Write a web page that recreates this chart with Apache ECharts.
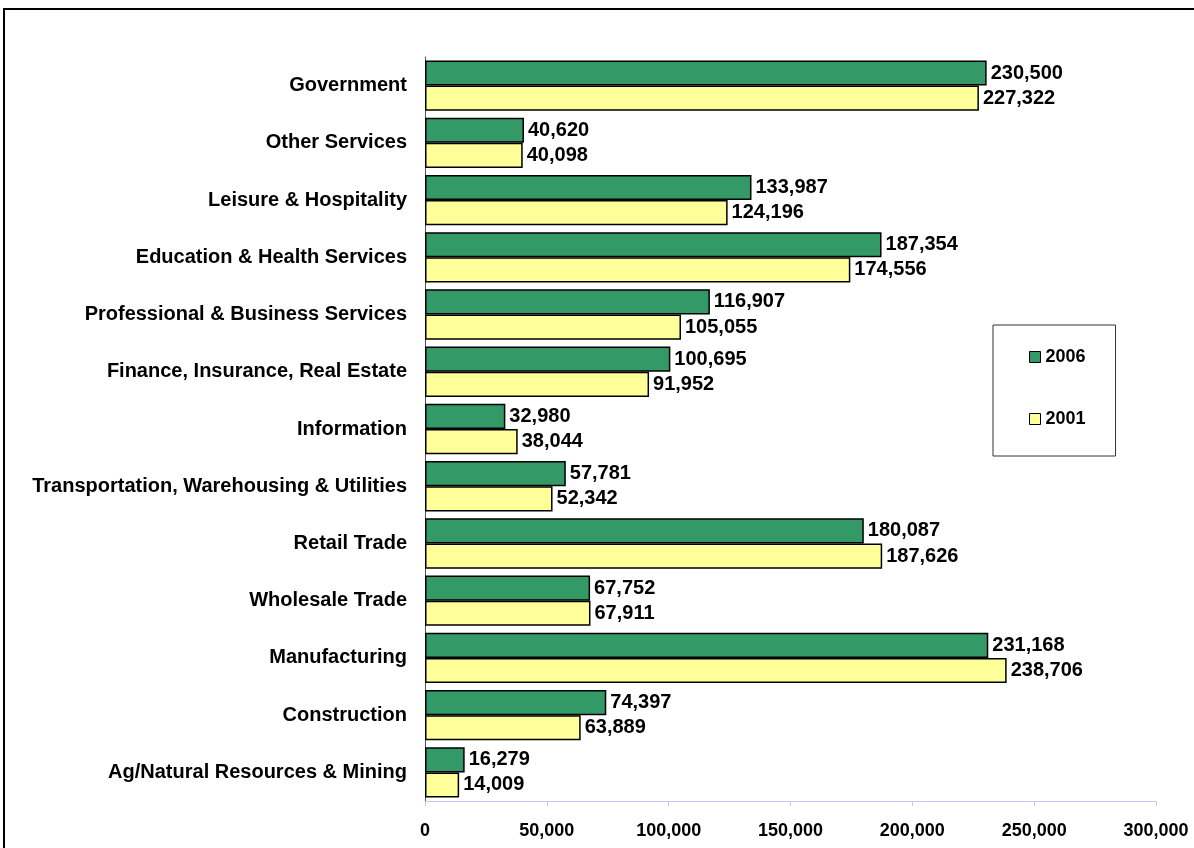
<!DOCTYPE html>
<html>
<head>
<meta charset="utf-8">
<title>Employment by Industry, 2001 and 2006</title>
<script src="https://cdn.jsdelivr.net/npm/echarts@6/dist/echarts.min.js"></script>
<style>
  html, body { margin: 0; padding: 0; background: #ffffff; }
  #chart { width: 1194px; height: 848px; }
</style>
</head>
<body>
<div id="chart"></div>
<script>
// Industry categories, listed bottom to top along the axis
const industries = [
  'Ag/Natural Resources & Mining',
  'Construction',
  'Manufacturing',
  'Wholesale Trade',
  'Retail Trade',
  'Transportation, Warehousing & Utilities',
  'Information',
  'Finance, Insurance, Real Estate',
  'Professional & Business Services',
  'Education & Health Services',
  'Leisure & Hospitality',
  'Other Services',
  'Government'
];

// Jobs per industry
const jobs2006 = [16279, 74397, 231168, 67752, 180087, 57781, 32980, 100695, 116907, 187354, 133987, 40620, 230500];
const jobs2001 = [14009, 63889, 238706, 67911, 187626, 52342, 38044, 91952, 105055, 174556, 124196, 40098, 227322];

// Value axis ticks
const axisMin = 0;
const axisMax = 300000;
const axisStep = 50000;

const FONT = '"Liberation Sans", Arial, sans-serif';
const fmt = v => Number(v).toLocaleString('en-US');

const chart = echarts.init(document.getElementById('chart'), null, { renderer: 'canvas' });

const labelStyle = {
  show: true,
  position: 'right',
  distance: 4,
  color: '#000',
  fontFamily: FONT,
  fontWeight: 'bold',
  fontSize: 20,
  formatter: p => fmt(p.value)
};

chart.setOption({
  animation: false,
  backgroundColor: '#ffffff',
  graphic: [{
    type: 'rect',
    shape: { x: 4, y: 9, width: 1220, height: 880 },
    style: { fill: 'none', stroke: '#000', lineWidth: 2 },
    silent: true,
    z: -1
  }],
  grid: {
    left: 425, right: 38, top: 57, bottom: 47,
    containLabel: false,
    outerBoundsMode: 'none'
  },
  legend: {
    orient: 'vertical',
    left: 993,
    top: 325,
    padding: [23, 30, 28, 36],
    itemGap: 44,
    itemWidth: 11,
    itemHeight: 11,
    borderColor: '#333',
    borderWidth: 1,
    backgroundColor: '#fff',
    icon: 'rect',
    data: ['2006', '2001'],
    itemStyle: { borderColor: '#000', borderWidth: 1 },
    textStyle: { fontFamily: FONT, fontWeight: 'bold', fontSize: 18, color: '#000' }
  },
  xAxis: {
    type: 'value',
    min: axisMin,
    max: axisMax,
    interval: axisStep,
    axisLine: { show: true, lineStyle: { color: '#c8c8f8', width: 1 } },
    axisTick: { show: true, length: 5, lineStyle: { color: '#c8c8f8' } },
    splitLine: { show: false },
    axisLabel: {
      margin: 21,
      color: '#000',
      fontFamily: FONT,
      fontWeight: 'bold',
      fontSize: 18,
      formatter: v => fmt(v)
    }
  },
  yAxis: {
    type: 'category',
    data: industries,
    axisLine: { show: true, lineStyle: { color: '#555', width: 1 } },
    axisTick: { show: false },
    splitLine: { show: false },
    axisLabel: {
      margin: 18,
      color: '#000',
      fontFamily: FONT,
      fontWeight: 'bold',
      fontSize: 20
    }
  },
  series: [
    {
      name: '2006',
      type: 'bar',
      data: jobs2006,
      barGap: '0%',
      barCategoryGap: '12%',
      itemStyle: { color: '#339966', borderColor: '#000', borderWidth: 1.5 },
      label: labelStyle
    },
    {
      name: '2001',
      type: 'bar',
      data: jobs2001,
      barGap: '0%',
      barCategoryGap: '12%',
      itemStyle: { color: '#ffff99', borderColor: '#000', borderWidth: 1.5 },
      label: labelStyle
    }
  ]
});
</script>
</body>
</html>
